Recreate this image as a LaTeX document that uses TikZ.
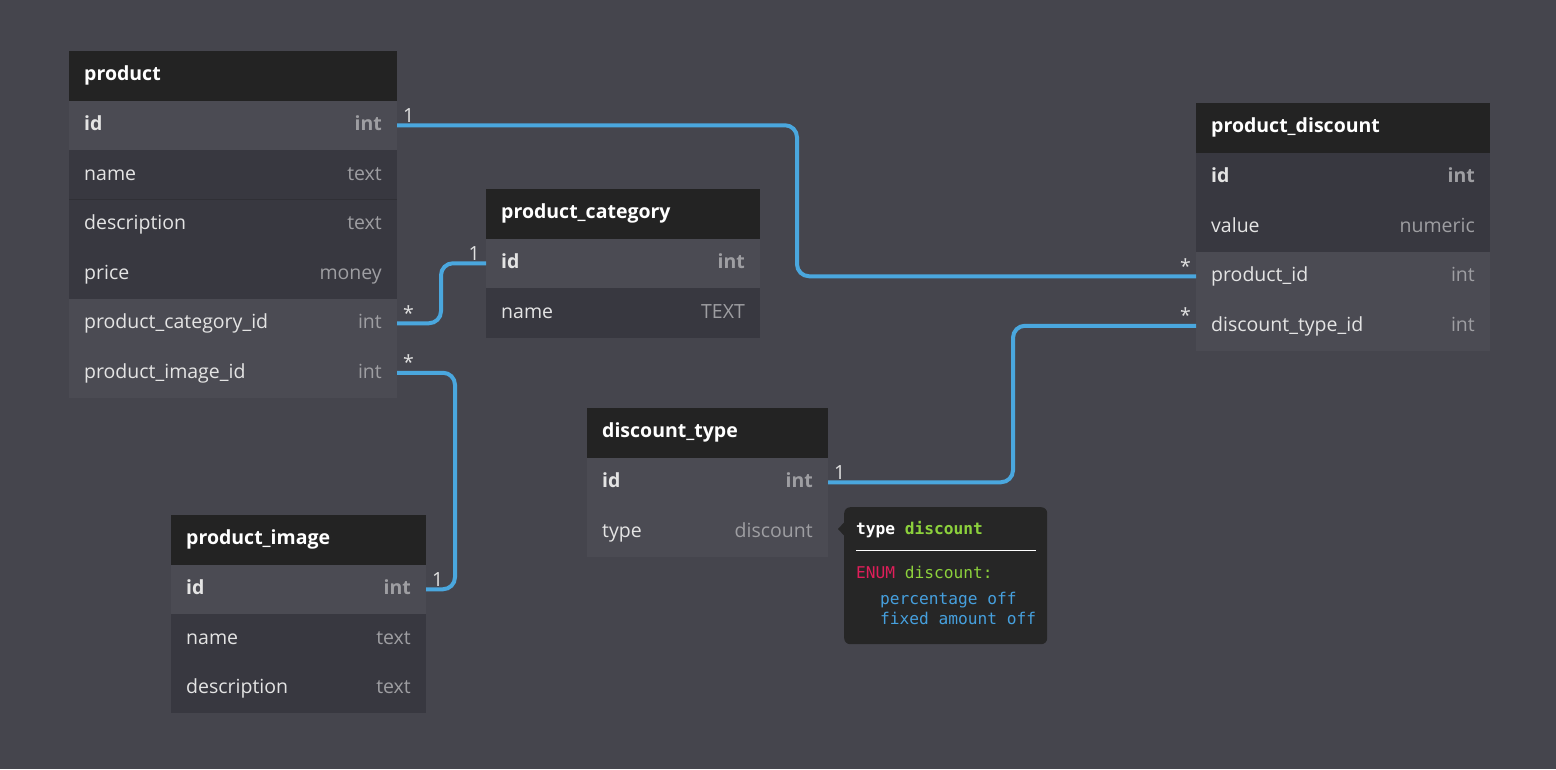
\documentclass[tikz,border=0pt]{standalone}
\usepackage{fontspec}
\setmainfont{Open Sans}
\newfontfamily\monof{DejaVu Sans Mono}
\usetikzlibrary{calc}
\definecolor{bgc}{RGB}{69,69,77}
\definecolor{hdrc}{RGB}{35,35,35}
\definecolor{lightc}{RGB}{75,75,83}
\definecolor{darkc}{RGB}{56,56,64}
\definecolor{fieldc}{RGB}{228,228,228}
\definecolor{typec}{RGB}{158,158,162}
\definecolor{linec}{RGB}{74,167,222}
\definecolor{labc}{RGB}{225,225,225}
\definecolor{tipc}{RGB}{38,38,38}
\definecolor{tgreen}{RGB}{140,209,60}
\definecolor{tred}{RGB}{224,30,90}
\definecolor{tblue}{RGB}{70,160,222}
\tikzset{
  hdrbox/.style={fill=hdrc,draw=none,inner sep=0pt,outer sep=0pt,minimum height=49.5pt},
  rowbox/.style={draw=none,inner sep=0pt,outer sep=0pt,minimum height=49.5pt},
  hdrtxt/.style={text=white,inner sep=0pt,font=\fontsize{19.5}{19.5}\selectfont\bfseries},
  fieldtxt/.style={text=fieldc,inner sep=0pt,font=\fontsize{19.5}{19.5}\selectfont},
  typetxt/.style={text=typec,inner sep=0pt,font=\fontsize{19.5}{19.5}\selectfont},
  conn/.style={draw=linec,line width=4pt,rounded corners=12pt},
  card/.style={text=labc,inner sep=0pt,font=\fontsize{19.5}{19.5}\selectfont},
  mono/.style={inner sep=0pt,font=\fontsize{16.2}{16.2}\selectfont\monof},
}
\newcommand\hdr[5]{%
  \node[hdrbox,minimum width=#4pt,anchor=north west] (#1) at (#2,#3) {};
  \node[hdrtxt,anchor=base west] at ([xshift=15pt,yshift=-29.5pt]#1.north west) {#5};}
\newcommand\erow[7]{%
  \node[rowbox,fill=#5,minimum width=#4pt,anchor=north west] (#1) at (#2,#3) {};
  \node[fieldtxt,anchor=base west] at ([xshift=15pt,yshift=-30pt]#1.north west) {#6};
  \node[typetxt,anchor=base east] at ([xshift=-15pt,yshift=-30pt]#1.north east) {#7};}
\begin{document}
\begin{tikzpicture}[x=1pt,y=-1pt]
\path[use as bounding box,fill=bgc] (0,0) rectangle (1556,769);
% product
\hdr{p-h}{69}{51}{328}{product}
\erow{p-id}{69}{100.5}{328}{lightc}{\bfseries id}{\bfseries int}
\erow{p-name}{69}{150}{328}{darkc}{name}{text}
\erow{p-desc}{69}{199.5}{328}{darkc}{description}{text}
\erow{p-price}{69}{249}{328}{darkc}{price}{money}
\erow{p-pcid}{69}{298.5}{328}{lightc}{product\_category\_id}{int}
\erow{p-piid}{69}{348}{328}{lightc}{product\_image\_id}{int}
% product_category
\hdr{pc-h}{486}{189}{274}{product\_category}
\erow{pc-id}{486}{238.5}{274}{lightc}{\bfseries id}{\bfseries int}
\erow{pc-name}{486}{288}{274}{darkc}{name}{TEXT}
% product_image
\hdr{pi-h}{171}{515}{255}{product\_image}
\erow{pi-id}{171}{564.5}{255}{lightc}{\bfseries id}{\bfseries int}
\erow{pi-name}{171}{614}{255}{darkc}{name}{text}
\erow{pi-desc}{171}{663.5}{255}{darkc}{description}{text}
% discount_type
\hdr{dt-h}{587}{408}{241}{discount\_type}
\erow{dt-id}{587}{457.5}{241}{lightc}{\bfseries id}{\bfseries int}
\erow{dt-type}{587}{507}{241}{lightc}{type}{discount}
% product_discount
\hdr{pd-h}{1196}{103}{294}{product\_discount}
\erow{pd-id}{1196}{152.5}{294}{darkc}{\bfseries id}{\bfseries int}
\erow{pd-value}{1196}{202}{294}{darkc}{value}{numeric}
\erow{pd-pid}{1196}{251.5}{294}{lightc}{product\_id}{int}
\erow{pd-dtid}{1196}{301}{294}{lightc}{discount\_type\_id}{int}
% separator lines
\draw[line width=0.8pt,draw=darkc!85!black] (p-desc.north west) -- (p-desc.north east);
% connector bend coordinates
\coordinate (c1) at (797,0);
\coordinate (c2) at (441,0);
\coordinate (c3) at (455,0);
\coordinate (c4) at (1013,0);
\draw[conn] (p-id.east) -- (p-id.east -| c1) -- (pd-pid.west -| c1) -- (pd-pid.west);
\draw[conn] (p-pcid.east) -- (p-pcid.east -| c2) -- (pc-id.west -| c2) -- (pc-id.west);
\draw[conn] (p-piid.east) -- (p-piid.east -| c3) -- (pi-id.east -| c3) -- (pi-id.east);
\draw[conn] (dt-id.east) -- (dt-id.east -| c4) -- (pd-dtid.west -| c4) -- (pd-dtid.west);
% cardinality labels
\node[card,anchor=base west] (l1) at ($(p-id.east)+(6,-3)$) {1};
\node[card,anchor=base east] (l2) at ($(pd-pid.west)+(-5,-3)$) {*};
\node[card,anchor=base west] (l3) at ($(p-pcid.east)+(6,-3)$) {*};
\node[card,anchor=base east] (l4) at ($(pc-id.west)+(-6,-3)$) {1};
\node[card,anchor=base west] (l5) at ($(p-piid.east)+(6,-3)$) {*};
\node[card,anchor=base west] (l6) at ($(pi-id.east)+(6,-3)$) {1};
\node[card,anchor=base west] (l7) at ($(dt-id.east)+(6,-3)$) {1};
\node[card,anchor=base east] (l8) at ($(pd-dtid.west)+(-5,-3)$) {*};
% tooltip
\node[fill=tipc,rounded corners=6pt,minimum width=203pt,minimum height=137pt,anchor=north west,inner sep=0pt] (tip) at (844,507) {};
\fill[tipc] ($(tip.north west)+(0.5,15)$) -- ($(tip.north west)+(-6,22)$) -- ($(tip.north west)+(0.5,29)$) -- cycle;
\node[mono,anchor=base west,text=white] (t1) at (856,534) {\bfseries type \textcolor{tgreen}{discount}};
\draw[white,line width=1.5pt] (856,550.5) -- (1036,550.5);
\node[mono,anchor=base west] (t2) at (856,578) {\textcolor{tred}{ENUM} \textcolor{tgreen}{discount:}};
\node[mono,anchor=base west,text=tblue] (t3) at (880,604) {percentage off};
\node[mono,anchor=base west,text=tblue] (t4) at (880,624) {fixed amount off};
\end{tikzpicture}
\end{document}
